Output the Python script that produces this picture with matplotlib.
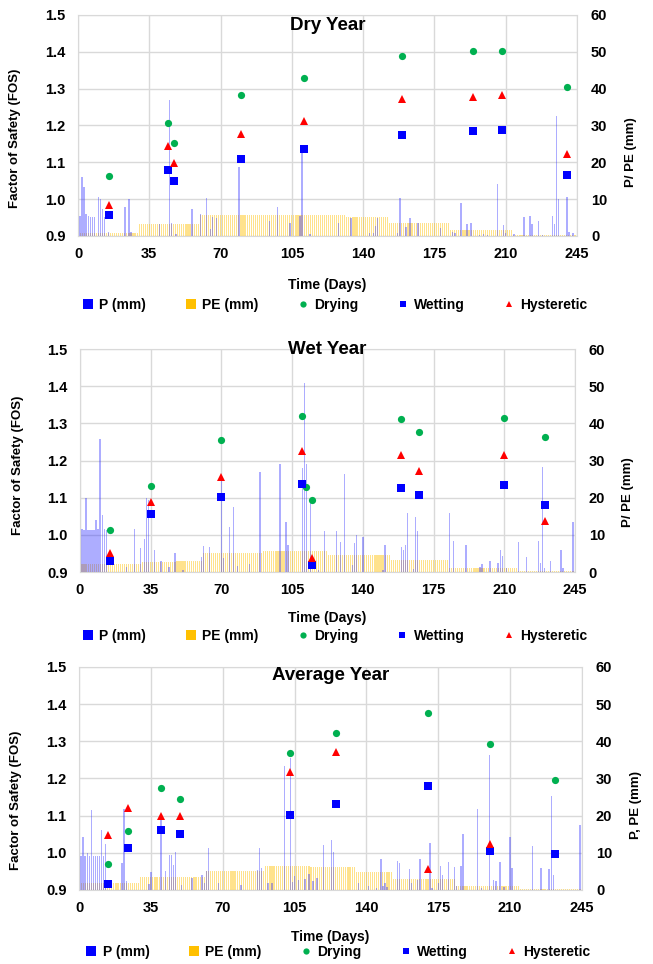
import numpy as np
import matplotlib.pyplot as plt
from matplotlib.lines import Line2D

plt.rcParams['font.family'] = ['Liberation Sans', 'DejaVu Sans']
plt.rcParams['font.weight'] = 'bold'
plt.rcParams['axes.labelweight'] = 'bold'

days = np.arange(0, 245)

# ---- Dry year ----
dry_days = [15, 44, 47, 80, 111, 159, 194, 208, 240]
dry_drying = [1.063, 1.207, 1.152, 1.284, 1.330, 1.389, 1.402, 1.401, 1.305]
dry_wetting = [0.958, 1.080, 1.050, 1.110, 1.137, 1.174, 1.185, 1.188, 1.066]
dry_hyst = [0.983, 1.143, 1.097, 1.176, 1.212, 1.272, 1.277, 1.283, 1.123]
dry_p_days = [0, 1, 2, 3, 4, 5, 6, 7, 8, 10, 11, 12, 13, 15, 23, 25, 26, 40,
              45, 46, 48, 56, 60, 63, 65, 66, 68, 79, 94, 98, 104, 109, 110,
              114, 128, 134, 143, 145, 146, 147, 157, 158, 161, 163, 167, 178,
              184, 185, 188, 191, 193, 197, 199, 201, 206, 209, 210, 214, 219,
              222, 223, 226, 228, 233, 234, 235, 236, 240, 241, 243]
dry_p_mm = [10.9, 5.4, 16, 13.4, 6, 5.4, 5.2, 5.2, 5.2, 10.7, 10, 7.2, 5.2,
            1.2, 8, 10.1, 1, 3.3, 37, 3.5, 0.5, 7.4, 6.1, 10.4, 1.9, 5.2, 5,
            18.6, 4.2, 7.8, 3.4, 5.4, 23.5, 0.5, 3.4, 4.8, 0.7, 0.9, 2.7, 5,
            0.9, 10.4, 2.5, 5, 3.4, 2.3, 1.2, 0.9, 8.9, 3.2, 3.4, 0.3, 0.5,
            0.3, 14, 3, 0.9, 0.5, 5.2, 5.4, 3.3, 4.2, 0.3, 5.4, 3.3, 32.6,
            10.1, 10.7, 1, 0.7]
dry_pe_steps = [(0, 30, 0.8), (30, 60, 3.2), (60, 132, 5.7), (132, 153, 5.2),
                (153, 183, 3.6), (183, 214, 1.5), (214, 245, 0.2)]

# ---- Wet year ----
wet_days = [15, 35, 70, 110, 112, 115, 159, 168, 210, 230]
wet_drying = [1.012, 1.131, 1.255, 1.321, 1.130, 1.093, 1.312, 1.278, 1.315, 1.264]
wet_wetting = [0.931, 1.055, 1.101, 1.137, np.nan, 0.919, 1.127, 1.107, 1.133, 1.081]
wet_hyst = [0.952, 1.089, 1.156, 1.225, np.nan, 0.939, 1.215, 1.173, 1.215, 1.038]
wet_p_days = [0, 1, 2, 3, 4, 5, 6, 7, 8, 9, 10, 11, 12, 13, 23, 27, 30, 32,
              33, 34, 37, 40, 44, 47, 51, 60, 61, 64, 70, 71, 74, 76, 78, 84,
              89, 99, 102, 103, 110, 111, 112, 114, 118, 121, 127, 129, 131,
              135, 136, 137, 140, 150, 151, 159, 160, 161, 162, 165, 166, 167,
              183, 185, 191, 198, 199, 203, 207, 208, 209, 211, 217, 221, 227,
              228, 229, 230, 233, 238, 239, 244]
wet_p_mm = [12.6, 11.5, 11.3, 20, 11.3, 11.3, 11.3, 11.3, 14, 11.7, 35.7,
            15.3, 11.5, 11.3, 1.4, 11.5, 6.6, 9, 20, 19.4, 5.9, 3, 1.4, 5, 0.5,
            4.1, 7, 6.8, 25, 3.7, 12, 17.6, 1.6, 2.2, 27, 29, 13.5, 7.3, 28,
            51, 29.2, 18.5, 0.5, 11, 11, 8.2, 26.3, 1.9, 7.7, 10, 9.5, 0.5,
            7.3, 6.8, 5.9, 7.3, 15.8, 0.7, 14.7, 11.1, 16, 8.3, 7.4, 1.3, 2.2,
            3.1, 2.3, 5.9, 4.3, 1, 8.1, 4.1, 8.4, 2.3, 28.3, 1.1, 2.9, 5.9, 1,
            13.5]
wet_pe_steps = [(0, 15, 2.1), (15, 31, 2.2), (31, 48, 2.8), (48, 61, 3.0),
                (61, 91, 5.2), (91, 123, 5.7), (123, 154, 4.6), (154, 183, 3.2),
                (183, 217, 1.2), (217, 245, 0.2)]

# ---- Average year ----
avg_days = [14, 24, 40, 49, 103, 125, 170, 200, 232]
avg_drying = [0.970, 1.058, 1.174, 1.145, 1.268, 1.322, 1.375, 1.292, 1.196]
avg_wetting = [0.915, 1.013, 1.061, 1.051, 1.102, 1.131, 1.181, 1.005, 0.996]
avg_hyst = [1.048, 1.121, 1.099, 1.100, 1.217, 1.271, 0.957, 1.023, np.nan]
avg_p_days = [1, 2, 3, 4, 5, 6, 7, 8, 9, 10, 11, 12, 13, 21, 22, 23, 34, 35,
              40, 42, 44, 45, 46, 47, 50, 55, 60, 61, 62, 63, 68, 79, 87, 88,
              89, 92, 94, 100, 103, 104, 105, 107, 110, 112, 114, 116, 119,
              123, 124, 136, 141, 145, 147, 148, 149, 150, 155, 156, 161, 162,
              165, 166, 171, 172, 175, 176, 177, 180, 183, 184, 186, 187, 194,
              196, 200, 202, 203, 205, 207, 210, 211, 221, 225, 229, 230, 231,
              244]
avg_p_mm = [9.1, 14.3, 9.1, 10, 9.1, 21.5, 9.1, 9.1, 9.1, 9.1, 16.1, 9.1,
            12.4, 7.2, 21.7, 2.5, 1.6, 4.9, 19.7, 5.1, 9.4, 9.4, 6.7, 10.1,
            1.3, 3.1, 4, 2, 5.1, 11.4, 1.8, 1.3, 5.4, 11.4, 5.8, 2, 1.8, 33.4,
            35.4, 2.2, 3.8, 2.7, 3, 4.3, 2.4, 3.1, 12.1, 13.5, 10.3, 1.8, 1.1,
            0.5, 8.3, 1.1, 2, 0.8, 7.8, 7.2, 5.7, 2, 2.7, 8.3, 12.6, 0.6, 1.8,
            6.5, 4, 7.4, 6.1, 1, 6.5, 15.1, 21.8, 0.6, 36.3, 2.7, 2.5, 7.6,
            0.8, 14.2, 5.8, 11.7, 5.8, 5.6, 25.4, 4, 17.5]
avg_pe_steps = [(0, 17, 1.8), (17, 30, 2.0), (30, 62, 3.4), (62, 91, 5.1),
                (91, 113, 6.5), (113, 135, 6.1), (135, 153, 4.9), (153, 184, 2.9),
                (184, 215, 1.1), (215, 245, 0.3)]

x_ticks = [0, 35, 70, 105, 140, 175, 210, 245]
fos_ticks = [0.9, 1.0, 1.1, 1.2, 1.3, 1.4, 1.5]
mm_ticks = [0, 10, 20, 30, 40, 50, 60]

BLUE = '#0000FF'
GREEN = '#00B050'
RED = '#FF0000'
ORANGE = '#FFC000'
GRID = '#D9D9D9'


def pe_series(steps):
    pe = np.zeros(len(days))
    for start, end, val in steps:
        pe[(days >= start) & (days < end)] = val
    return pe


def p_series(p_days, p_mm):
    p = np.zeros(len(days))
    p[p_days] = p_mm
    return p


def draw_panel(fig, rect, title, title_y, pts, p, pe, right_label,
               ylab_y, rlab_y, leg_y, xlab_y):
    axb = fig.add_axes(rect)
    axb.bar(days, pe, width=0.55, color=ORANGE, alpha=0.45, linewidth=0,
            antialiased=False)
    axb.bar(days, p, width=0.7, color='#3333FF', alpha=0.4, linewidth=0,
            antialiased=False)
    axb.set_xlim(0, 245)
    axb.set_ylim(0, 60)
    axb.set_xticks(x_ticks)
    axb.set_yticks(mm_ticks)
    axb.grid(True, color=GRID, lw=1)
    axb.set_axisbelow(True)
    for s in axb.spines.values():
        s.set_color(GRID)

    axf = axb.twinx()
    d, dry, wet, hyst = pts
    axf.plot(d, dry, 'o', color=GREEN, ms=5.2, mew=0)
    axf.plot(d, wet, 's', color=BLUE, ms=5.8, mew=0)
    axf.plot(d, hyst, '^', color=RED, ms=6.2, mew=0)
    axf.set_ylim(0.9, 1.5)
    axf.set_yticks(fos_ticks)
    axf.set_yticklabels(['%.1f' % t for t in fos_ticks])
    for s in axf.spines.values():
        s.set_visible(False)

    # FOS on the left, P/PE on the right
    axf.yaxis.tick_left()
    axf.yaxis.set_label_position('left')
    axb.yaxis.tick_right()
    axb.yaxis.set_label_position('right')

    axb.tick_params(axis='x', length=0, pad=8, labelsize=10.5)
    axb.tick_params(axis='y', length=0, pad=10, labelsize=10.5)
    axf.tick_params(axis='y', length=0, pad=9, labelsize=10.5)

    axf.set_ylabel('Factor of Safety (FOS)', fontsize=9.5)
    axf.yaxis.set_label_coords(-0.114, ylab_y)
    axb.set_ylabel(right_label, fontsize=9.5)
    axb.yaxis.set_label_coords(1.096, rlab_y)
    axb.set_xlabel('Time (Days)', fontsize=10)
    axb.xaxis.set_label_coords(0.5, xlab_y)

    axf.text(0.5, title_y, title, transform=axf.transAxes, ha='center',
             va='center', fontsize=13.5, fontweight='bold')

    handles = [
        Line2D([], [], marker='s', color=BLUE, ls='none', ms=7, mew=0),
        Line2D([], [], marker='s', color=ORANGE, ls='none', ms=7.5, mew=0),
        Line2D([], [], marker='o', color=GREEN, ls='none', ms=4.5, mew=0),
        Line2D([], [], marker='s', color=BLUE, ls='none', ms=4.5, mew=0),
        Line2D([], [], marker='^', color=RED, ls='none', ms=5, mew=0),
    ]
    labels = ['P (mm)', 'PE (mm)', 'Drying', 'Wetting', 'Hysteretic']
    axf.legend(handles, labels, loc='center', bbox_to_anchor=(0.515, leg_y),
               ncol=5, frameon=False, handlelength=0.8,
               handletextpad=0.4, columnspacing=2.8,
               prop={'weight': 'bold', 'size': 10})
    return axb, axf


fig = plt.figure(figsize=(6.53, 9.64), dpi=100)

draw_panel(fig, [0.1195, 0.7552, 0.7641, 0.2293], 'Dry Year', 0.952,
           (dry_days, dry_drying, dry_wetting, dry_hyst),
           p_series(dry_p_days, dry_p_mm), pe_series(dry_pe_steps),
           'P/ PE (mm)', 0.44, 0.38, -0.312, -0.19)

draw_panel(fig, [0.1225, 0.4066, 0.7580, 0.2313], 'Wet Year', 1.0,
           (wet_days, wet_drying, wet_wetting, wet_hyst),
           p_series(wet_p_days, wet_p_mm), pe_series(wet_pe_steps),
           'P/ PE (mm)', 0.48, 0.36, -0.287, -0.175)

draw_panel(fig, [0.1210, 0.0768, 0.7703, 0.2313], 'Average Year', 0.96,
           (avg_days, avg_drying, avg_wetting, avg_hyst),
           p_series(avg_p_days, avg_p_mm), pe_series(avg_pe_steps),
           'P, PE (mm)', 0.40, 0.38, -0.278, -0.18)

fig.savefig('out.png', dpi=100)
